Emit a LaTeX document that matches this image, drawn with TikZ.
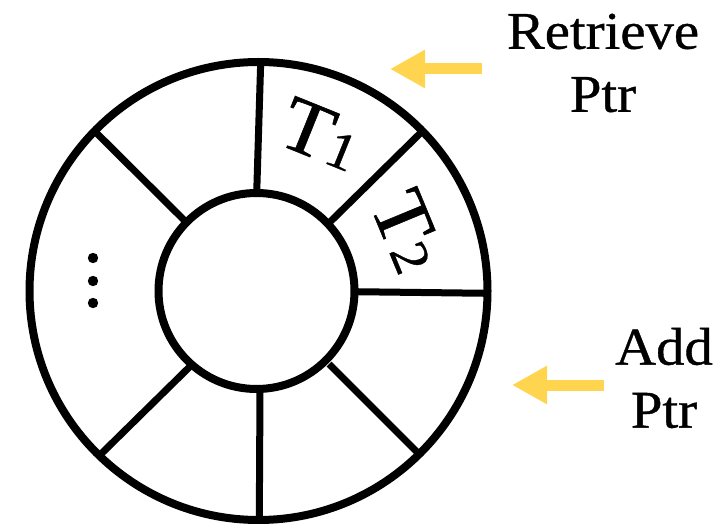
\documentclass[tikz,border=0pt]{standalone}
\usepackage{fontspec}
\setmainfont{Liberation Serif}[FakeBold=0.7,FakeStretch=1.07]
\usetikzlibrary{arrows.meta,calc}
\definecolor{ptryellow}{RGB}{255,213,79}
\tikzset{
  ring/.style={draw=black, line width=8pt},
  spoke/.style={draw=black, line width=7pt},
  ptrarrow/.style={draw=ptryellow, line width=11pt, -{Triangle[length=35pt,width=36pt]}},
  lbl/.style={font=\fontsize{53}{63}\selectfont, align=center, inner sep=0pt},
  slot/.style={font=\fontsize{78}{84}\selectfont, inner sep=0pt},
  dotmark/.style={fill=black}
}
\newcommand{\olddig}[1]{{\fontsize{53}{53}\selectfont #1}}
\begin{document}
\begin{tikzpicture}[x=1pt,y=-1pt]
\useasboundingbox (0,0) rectangle (725,526);
\coordinate (oc) at (258.5,291);
\coordinate (ic) at (256.5,291);
\draw[ring] (oc) circle (229);
\draw[ring] (ic) circle (98);
% spokes
\coordinate (intop) at (256.7,193);
\coordinate (outtop) at (260.7,62);
\coordinate (inur) at (330.5,221.5);
\coordinate (outur) at (420.5,133);
\coordinate (inr) at (354.5,291.7);
\coordinate (outr) at (487,293.3);
\coordinate (inlr) at (329,364);
\coordinate (outlr) at (419,454);
\coordinate (inb) at (260,389);
\coordinate (outb) at (259.3,519);
\coordinate (inll) at (189.5,367);
\coordinate (outll) at (101,454);
\coordinate (inul) at (186.5,222.5);
\coordinate (outul) at (96.5,133);
\foreach \n in {top,ur,r,lr,b,ll,ul}{
  \draw[spoke] (in\n) -- (out\n);
}
% slot labels
\node[slot, rotate=-22] (t1) at (321,134) {T\olddig{1}};
\node[slot, rotate=-67.5] (t2) at (408,231) {T\olddig{2}};
% ellipsis
\fill[dotmark] (93,258) circle (5.2) (93,281) circle (5.2) (93,303) circle (5.2);
% pointers
\node[lbl] (ret) at (603,63) {Retrieve\\Ptr};
\node[lbl] (add) at (664,378) {Add\\Ptr};
\coordinate (rtail) at (482,69);
\coordinate (rtip) at (390,69);
\coordinate (atail) at (604,385);
\coordinate (atip) at (512,385);
\draw[ptrarrow] (rtail) -- (rtip);
\draw[ptrarrow] (atail) -- (atip);
\end{tikzpicture}
\end{document}
